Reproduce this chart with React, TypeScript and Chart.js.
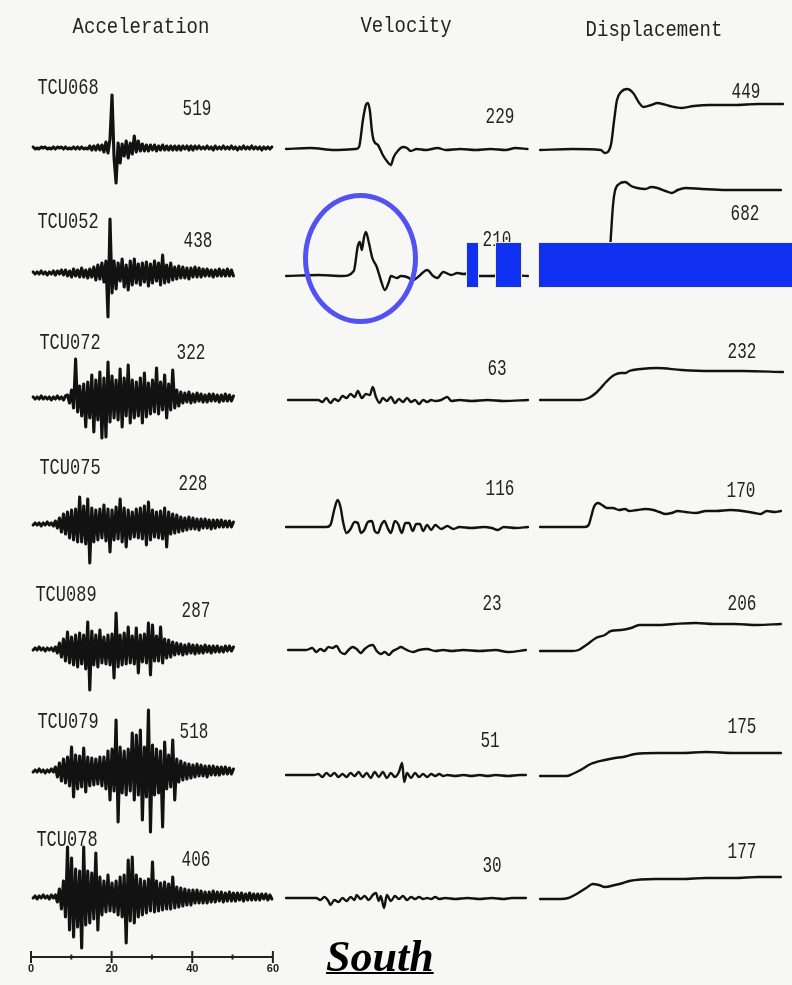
import React, { useEffect, useRef } from "react";
import { Chart, registerables } from "chart.js";

Chart.register(...registerables);

// ---------------- DATA ----------------
const STATIONS = ["TCU068", "TCU052", "TCU072", "TCU075", "TCU089", "TCU079", "TCU078"];
const COLUMN_TITLES = ["Acceleration", "Velocity", "Displacement"];
const ACC_PEAKS = ["519", "438", "322", "228", "287", "518", "406"];
const VEL_PEAKS = ["229", "210", "63", "116", "23", "51", "30"];
const DISP_PEAKS = ["449", "682", "232", "170", "206", "175", "177"];
const SCALE_MAJOR = [0, 20, 40, 60];
const SCALE_MINOR = [10, 30, 50];
const SCALE_LABEL = "South";

// acceleration: uniform sampling, first sample at 0.5 s, step 0.5 s (relative amplitude)
const ACC_T0 = 0.5;
const ACC_DT = 0.5;
const ACC_TCU068 = [1, -1, 0, -1, 1, 0, 1, -1, 0, -1, 1, -1, 1, 0, 1, -1, 1, -1, 0, -1, 1, -1, 1, -1, 1, -1, 0, -1,
  2, -2, 2, -2, 3, -2, 3, -4, 6, -5, 9, 53, -10, -35,
  5, -15, 4, -8, 7, -10, 5, -6, 12, -4, 7, -3, 4, -3,
  3, -3, 3, -2, 3, -3, 2, -2, 3, -2, 2, -2, 2, -2, 2, -2, 2, -2, 2, -1, 2, -2, 2, -2,
  2, -1, 2, -1, 1, -1, 2, -1, 1, -2, 2, -1, 1, -1, 2, -1, 1, -1, 2, -1, 1, -2, 1, -1, 2, -1, 1, -1, 2, -1, 1, -1, 1, -2, 1, -1, 1, -1, 1];
const ACC_TCU052 = [1, -1, 1, -1, 2, -1, 1, -2, 1, -1, 2, -2, 2, -1,
  3, -2, 3, -3, 2, -4, 4, -3, 3, -4, 5, -4, 3, -5, 4, -4,
  6, -7, 8, -6, 10, -9, 12, -44, 54, -20,
  12, -16, 10, -8, 14, -14, 8, -17, 12, -12, 14, -10, 9, -12, 10, -9, 11, -13,
  9, -10, 12, -8, 10, -12, 18, -10, 8, -9, 10, -7,
  6, -6, 7, -5, 6, -5, 5, -6, 5, -4, 6, -4, 5, -4,
  4, -3, 4, -3, 3, -4, 3, -3, 4, -3, 3, -3, 4, -3, 3, -3];
const ACC_TCU072 = [1, -1, 1, -1, 2, -1, 1, -1, 1, -2, 1, -1, 2, -1, 1, -2, 2,
  3, -5, 8, -10, 39, -14, 12, -18, 14, -29, 16, -20, 23, -34, 18, -22, 26, -40, 20, -39,
  36, -24, 22, -20, 18, -22, 29, -29, 20, -18, 33, -25, 18, -20, 16, -18, 20, -25, 25, -19,
  15, -16, 18, -14, 30, -16, 16, -12, 23, -20, 14, -12, 28, -10, 8, -8, 6,
  -5, 5, -4, 6, -5, 4, -4, 5, -3, 4, -4, 3, -4, 4, -3, 4, -3, 3, -4, 3, -3, 4, -3, 3, -3, 2];
const ACC_TCU075 = [-1, 1, -1, 1, -2, 1, -1, 2, -1, 1, -2,
  3, -4, 6, -8, 10, -10, 12, -14, 14, -16, 15, -18,
  27, -18, 18, -20, 25, -39, 16, -18, 14, -16, 15, -14, 19, -17, 15, -28, 14, -16, 17, -15,
  25, -18, 16, -23, 14, -15, 12, -13, 15, -14, 16, -15, 18, -21, 22, -16, 14, -13, 12, -14,
  13, -15, 16, -23, 12, -10, 10, -9, 9, -8, 7,
  -7, 6, -6, 7, -5, 6, -5, 5, -6, 5, -4, 5, -4, 4, -5, 4, -4, 4, -3, 4, -3, 3, -3, 3, -3, 2];
const ACC_TCU089 = [-1, 1, -1, 2, -1, 1, -2, 1, -1, 1, -2, 2,
  -4, 6, -8, 10, -12,
  17, -14, 12, -16, 14, -18, 16, -15, 14, -20, 27, -41, 18, -16, 14, -18, 19, -14, 12, -15,
  14, -16, 15, -29, 36, -18, 14, -16, 16, -15, 22, -14, 13, -15, 21, -24, 14, -13, 15, -14,
  26, -26, 24, -12, 13, -12, 22, -14, 10, -9, 9, -8, 7,
  -6, 6, -5, 5, -6, 4, -5, 5, -4, 4, -5, 4, -4, 3, -4, 4, -3, 3, -4, 3, -3, 3, -3, 2, -3, 3, -2, 3, -2, 2];
const ACC_TCU079 = [-1, 1, -1, 2, -1, 1, -2, 1, -1, 2, -1,
  4, -6, 8, -10, 12, -12, 14, -15,
  24, -26, 16, -18, 15, -16, 23, -21, 14, -15, 13, -14, 12, -13, 14, -15, 14, -18, 20, -29,
  22, -20, 51, -51, 24, -22, 20, -24, 22, -20, 38, -29, 36, -24, 41, -49, 24, -26, 61, -61,
  26, -24, 22, -22, 20, -56, 29, -18, 16, -16, 31, -29, 12, -11, 10,
  -9, 8, -8, 7, -7, 6, -6, 7, -5, 6, -5, 5, -6, 5, -4, 5, -4, 4, -4, 4, -3, 4, -3, 3, -3, 2];
const ACC_TCU078 = [-1, 1, -2, 1, -1, 2, -1, 1, -2, 2, -1, 2,
  -5, 8, -12, 16, -20,
  50, -33, 39, -40, 28, -30, 26, -51, 50, -28, 26, -26, 24, -22, 44, -33, 20, -18, 16, -15,
  22, -14, 14, -15, 16, -18, 20, -20, 22, -46, 37, -24, 40, -26, 22, -20, 18, -18, 16, -16,
  18, -14, 35, -15, 16, -14, 14, -13, 15, -12, 13, -12, 20, -11, 10, -10, 9,
  -9, 8, -8, 7, -8, 7, -6, 7, -6, 6, -6, 5, -6, 5, -5, 6, -5, 5, -4, 5, -5, 4, -4, 5, -4,
  4, -4, 4, -3, 4, -4, 3, -3, 4, -3, 3, -3, 3, -3, 3, -2, 3, -3, 2, -2];

// velocity: [time s, relative amplitude]
const VEL_TCU068 = [[0, 0], [6, 1], [12, -1], [17.3, 0], [18.1, 2], [19.1, 30], [19.8, 44], [20.3, 46], [20.8, 38], [21.3, 18], [21.8, 8], [22.8, 4], [24, -6], [25, -12], [26, -16], [26.7, -8], [27.7, -2], [29, 2], [30, 1], [30.9, -2], [32.4, 0], [34.7, -1], [37.6, 1], [39.6, -1], [43.3, 0], [47, -1], [50.7, 0], [54.5, -1], [56.9, 1], [59.9, 0]];
const VEL_TCU052 = [[0, 0], [8, 1], [14, 0], [16.8, 5], [17.8, 30], [18.3, 34], [18.8, 26], [19.3, 38], [19.8, 44], [20.5, 34], [21.4, 18], [22.5, 9], [23.5, -4], [24.5, -14], [25.5, -6], [26, 0], [27.5, -2], [28.5, 0], [30, -1], [31.5, -4], [33, 0], [35, 6], [36.5, 0], [37.5, -2], [39, 4], [41, 1], [42.5, 3], [44, 2], [46, 3], [48, 0], [51, 0], [55, 1], [60, 0]];
const VEL_TCU072 = [[0.5, 0], [8, 0], [9, -2], [10, 2], [11, -3], [12, 1], [13, -1], [14, 4], [15, 2], [16, 6], [17, 3], [17.8, 9], [18.8, 2], [19.8, 6], [20.8, 5], [21.5, 13], [22.3, 3], [23.2, -3], [24, 2], [25, -1], [26, 3], [27, -3], [28, 1], [29, -2], [30, 2], [31, -2], [32, 0], [33, -4], [34, 0], [35, -2], [36, 0], [37, -1], [38.5, 0], [40, 3], [41, -1], [43, 0], [46, -1], [50, 0], [54, -1], [60, 0]];
const VEL_TCU075 = [[0, 0], [10, 0], [11, 2], [12, 18], [12.8, 27], [13.5, 20], [14.2, 4], [15, -6], [16, -2], [17, 5], [17.8, 4], [18.6, -6], [19.4, -3], [20.3, 5], [21.3, 6], [22, -4], [22.8, -6], [23.6, 2], [24.4, 6], [25.2, -1], [26, -6], [27, 6], [27.8, 3], [28.7, -6], [29.6, 4], [30.5, 4], [31.4, -4], [32.3, 3], [33.2, 3], [34, -4], [35, 2], [36, -3], [37, 2], [38.5, -2], [40, 1], [41.5, -2], [43, 0], [46, -1], [49, 0], [51, -1], [52.5, -3], [54, 0], [57, -1], [60, 0]];
const VEL_TCU089 = [[0.5, 0], [5, 0], [6.5, 2], [7.5, -2], [8.5, 1], [9.5, -1], [10.5, 3], [11.5, 2], [12.5, 4], [13.5, -2], [14.5, -4], [15.5, 0], [16.5, 3], [17.5, 1], [18.5, -3], [19.5, 1], [20.5, 4], [21.5, 5], [22.5, -1], [23.5, -4], [24.5, -2], [25.5, -5], [26.5, -1], [27.5, 1], [28.5, 3], [29.5, 1], [30.5, -1], [31.5, -2], [33, 0], [35, 1], [37, -1], [39, 0], [41, -1], [44, 0], [48, -1], [52, 0], [55, -2], [59.5, 0]];
const VEL_TCU079 = [[0, 0], [7, 0], [8, 1], [9, -2], [10, 2], [11, -1], [12, 2], [13, -2], [14, 1], [15, -2], [16, 2], [17, -1], [18, 3], [19, -2], [20, 2], [21, -3], [22, 3], [23, -2], [24, 3], [25, -3], [26, 2], [27, -2], [28, 3], [28.8, 12], [29.3, -7], [30, 2], [31, -3], [32, 2], [33, -2], [34, 1], [35, -2], [36, 1], [37, -1], [38, 1], [39, -1], [40, 0], [42, -1], [44, 0], [46, -1], [48, 0], [50, -1], [52, 0], [55, -1], [58, 0], [59.5, 0]];
const VEL_TCU078 = [[0, 0], [7.5, 0], [8.5, -2], [9.5, 1], [10.5, -3], [11, -7], [12, -2], [13, -4], [14, 0], [15, -3], [16, 1], [17, -2], [17.5, 3], [18.5, -1], [19.5, 2], [20.5, -2], [21.5, 3], [22.3, 5], [23, -3], [23.5, 2], [24.3, -10], [25, 3], [26, -3], [27, 2], [28, -1], [29, 2], [30, -2], [31, 1], [32, -1], [33, 1], [34, -1], [35, 0], [36, -1], [37, 1], [38, -1], [39.5, 0], [42, -1], [45, 0], [48, -1], [51, 0], [54, -1], [56, 0], [59.5, 0]];

// displacement: [time s, relative amplitude]
const DISP_TCU068 = [[0, 0], [8, 1], [15, 0], [16, -3], [17.5, 5], [18.3, 30], [19, 50], [20, 58], [21.5, 61], [23, 57], [24.5, 47], [25.5, 43], [27.5, 45], [29, 47], [32, 44], [35, 42], [38, 44], [42, 45], [48, 45], [54, 46], [60, 46]];
const DISP_TCU052 = [[0, 0], [16, 0], [17, 10], [17.5, 40], [18, 70], [18.5, 85], [19.5, 92], [21, 94], [22.5, 90], [24, 88], [26, 87], [27.5, 89], [29, 88], [31, 85], [32.5, 83], [34, 86], [36, 88], [40, 87], [46, 86], [52, 86], [59.5, 86]];
const DISP_TCU072 = [[0, 0], [10, 0], [12, 2], [13.8, 7], [15, 12], [16.3, 18], [18.3, 25], [20, 27], [21.2, 27], [22, 29], [24.9, 31], [28.9, 32], [35, 30], [42, 29], [50, 29], [60, 28]];
const DISP_TCU075 = [[0, 0], [11, 0], [12, 2], [12.6, 10], [13.3, 20], [14.3, 24], [15.3, 22], [16.5, 19], [18, 19], [19.5, 17], [21, 18], [22, 16], [24, 17], [26, 18], [28, 17], [29.5, 15], [31, 13], [32.5, 14], [34, 16], [36, 15], [38.5, 14], [41, 16], [43.5, 16], [47, 17], [50, 16], [53, 14], [54.5, 13], [56, 16], [58, 15], [59.5, 16]];
const DISP_TCU089 = [[0, 0], [8, 0], [9.5, 1], [11.4, 6], [13.8, 13], [16, 16], [17.5, 20], [20, 21], [22.5, 23], [24.5, 26], [29, 26], [33, 27], [38.5, 28], [43, 27], [48, 27], [53.5, 26], [59.5, 27]];
const DISP_TCU079 = [[0, 0], [6.5, 0], [8, 2], [10, 6], [12.5, 12], [16, 16], [18.5, 18], [20.5, 19], [23.5, 22], [29, 23], [35, 23], [41, 24], [48, 23], [54, 23], [59.5, 23]];
const DISP_TCU078 = [[0, 0], [5, 0], [7, 1], [9, 5], [11.4, 11], [13, 15], [14.5, 14], [16, 12], [18.5, 14], [20.5, 16], [22, 18], [28.5, 20], [35, 20], [41, 21], [48, 21], [54, 22], [59.5, 22]];

const ACC_SERIES = [ACC_TCU068, ACC_TCU052, ACC_TCU072, ACC_TCU075, ACC_TCU089, ACC_TCU079, ACC_TCU078];
const VEL_SERIES = [VEL_TCU068, VEL_TCU052, VEL_TCU072, VEL_TCU075, VEL_TCU089, VEL_TCU079, VEL_TCU078];
const DISP_SERIES = [DISP_TCU068, DISP_TCU052, DISP_TCU072, DISP_TCU075, DISP_TCU089, DISP_TCU079, DISP_TCU078];

// ---------------- LAYOUT ----------------
const W = 792;
const H = 985;
const BG = "#f7f7f6";
const INK = "#121212";
const TEXT_INK = "#222";
const MONO = '"Liberation Mono", "DejaVu Sans Mono", monospace';
const T_MIN = -2;
const T_MAX = 62;
const AMP_MIN = -75;
const AMP_MAX = 115;

const COLS = [
  { x0: 31, pps: 4.05, base: [148, 273, 398, 524, 649, 771, 897], lw: 3.1 },
  { x0: 286, pps: 4.03, base: [149, 276, 400, 527, 650, 775, 898], lw: 2.4 },
  { x0: 540, pps: 4.05, base: [150, 276, 400, 527, 651, 776, 899], lw: 2.4 },
];
const TITLE_POS = [[141, 28], [406, 27], [654, 31]];
const STATION_POS = [[68, 88], [68, 222], [70, 343], [70, 468], [66, 595], [68, 722], [67, 840]];
const ACC_PEAK_POS = [[197, 110], [198, 242], [191, 354], [193, 485], [196, 612], [194, 733], [196, 861]];
const VEL_PEAK_POS = [[500, 118], [497, 241], [497, 370], [500, 490], [492, 605], [490, 742], [492, 867]];
const DISP_PEAK_POS = [[746, 93], [745, 215], [742, 353], [741, 492], [742, 605], [742, 728], [742, 853]];

type Pt = { x: number; y: number };

function Trace({ points, x0, pps, baseline, smooth, lw }: { points: Pt[]; x0: number; pps: number; baseline: number; smooth: boolean; lw: number }) {
  const ref = useRef<HTMLCanvasElement>(null);
  const width = Math.round((T_MAX - T_MIN) * pps);
  const height = AMP_MAX - AMP_MIN;
  const left = Math.round(x0 + T_MIN * pps);
  const top = baseline - AMP_MAX;
  useEffect(() => {
    const chart = new Chart(ref.current as HTMLCanvasElement, {
      type: "line",
      data: {
        datasets: [
          {
            data: points,
            borderColor: INK,
            borderWidth: lw,
            pointRadius: 0,
            fill: false,
            tension: smooth ? 0.3 : 0,
            cubicInterpolationMode: smooth ? "monotone" : "default",
            borderJoinStyle: "round",
            borderCapStyle: "round",
            clip: false,
          } as any,
        ],
      },
      options: {
        animation: false,
        responsive: false,
        devicePixelRatio: 1,
        events: [],
        layout: { padding: 0 },
        plugins: { legend: { display: false }, tooltip: { enabled: false } },
        scales: {
          x: { type: "linear", min: T_MIN, max: T_MAX, display: false },
          y: { type: "linear", min: AMP_MIN, max: AMP_MAX, display: false },
        },
      },
    });
    return () => chart.destroy();
  }, []);
  return <canvas ref={ref} width={width} height={height} style={{ position: "absolute", left, top, width, height }} />;
}

function ScaleBar() {
  const ref = useRef<HTMLCanvasElement>(null);
  useEffect(() => {
    const chart = new Chart(ref.current as HTMLCanvasElement, {
      type: "scatter",
      data: {
        datasets: [
          {
            data: SCALE_MAJOR.map((v) => ({ x: v, y: 0 })),
            pointStyle: "line",
            rotation: 90,
            pointRadius: 6,
            borderWidth: 2,
            borderColor: TEXT_INK,
            clip: false,
          } as any,
          {
            data: SCALE_MINOR.map((v) => ({ x: v, y: 0 })),
            pointStyle: "line",
            rotation: 90,
            pointRadius: 2.5,
            borderWidth: 2,
            borderColor: TEXT_INK,
            clip: false,
          } as any,
        ],
      },
      options: {
        animation: false,
        responsive: false,
        devicePixelRatio: 1,
        events: [],
        layout: { padding: { left: 10, right: 10, top: 0, bottom: 0 } },
        plugins: { legend: { display: false }, tooltip: { enabled: false } },
        scales: {
          x: {
            type: "linear",
            min: 0,
            max: 60,
            position: { y: 0 } as any,
            border: { display: true, color: TEXT_INK, width: 2 },
            grid: { display: false, drawTicks: false, tickLength: 0 },
            ticks: {
              stepSize: 10,
              autoSkip: false,
              maxRotation: 0,
              padding: 5,
              color: TEXT_INK,
              font: { family: '"Liberation Sans Narrow", "Liberation Sans", sans-serif', size: 11, weight: "bold" },
              callback: (v: any) => (SCALE_MAJOR.includes(Number(v)) ? String(v) : ""),
            },
          },
          y: { type: "linear", min: -1, max: 1, display: false },
        },
      },
    });
    return () => chart.destroy();
  }, []);
  return <canvas ref={ref} width={263} height={44} style={{ position: "absolute", left: 21, top: 935, width: 263, height: 44 }} />;
}

function Txt({ text, pos, size, sy = 1 }: { text: string; pos: number[]; size: number; sy?: number }) {
  return (
    <div
      style={{
        position: "absolute",
        left: pos[0],
        top: pos[1],
        transform: `translate(-50%, -50%) scale(1, ${sy})`,
        fontFamily: MONO,
        fontSize: size,
        lineHeight: 1,
        whiteSpace: "nowrap",
        color: TEXT_INK,
      }}
    >
      {text}
    </div>
  );
}

export default function App() {
  const accPts = ACC_SERIES.map((arr) => arr.map((v, i) => ({ x: ACC_T0 + i * ACC_DT, y: v })));
  const velPts = VEL_SERIES.map((arr) => arr.map(([t, v]) => ({ x: t, y: v })));
  const dispPts = DISP_SERIES.map((arr) => arr.map(([t, v]) => ({ x: t, y: v })));
  const groups = [accPts, velPts, dispPts];
  return (
    <div style={{ position: "absolute", left: 0, top: 0, width: W, height: H, background: BG, overflow: "hidden" }}>
      {groups.map((g, c) =>
        g.map((pts, r) => (
          <Trace key={`${c}-${r}`} points={pts} x0={COLS[c].x0} pps={COLS[c].pps} baseline={COLS[c].base[r]} smooth={c > 0} lw={COLS[c].lw} />
        ))
      )}
      <ScaleBar />
      {COLUMN_TITLES.map((t, i) => (
        <Txt key={t} text={t} pos={TITLE_POS[i]} size={19} sy={1.15} />
      ))}
      {STATIONS.map((s, i) => (
        <Txt key={s} text={s} pos={STATION_POS[i]} size={17} sy={1.3} />
      ))}
      {ACC_PEAKS.map((p, i) => (
        <Txt key={"a" + i} text={p} pos={ACC_PEAK_POS[i]} size={16} sy={1.35} />
      ))}
      {VEL_PEAKS.map((p, i) => (
        <Txt key={"v" + i} text={p} pos={VEL_PEAK_POS[i]} size={16} sy={1.35} />
      ))}
      {DISP_PEAKS.map((p, i) => (
        <Txt key={"d" + i} text={p} pos={DISP_PEAK_POS[i]} size={16} sy={1.35} />
      ))}
      <div
        style={{
          position: "absolute",
          left: 326,
          top: 935,
          fontFamily: '"Liberation Serif", "Times New Roman", serif',
          fontWeight: "bold",
          fontStyle: "italic",
          fontSize: 44,
          lineHeight: "44px",
          textDecoration: "underline",
          textDecorationThickness: "2px",
          color: "#000",
        }}
      >
        {SCALE_LABEL}
      </div>
      <div
        style={{
          position: "absolute",
          left: 303,
          top: 193,
          width: 115,
          height: 131,
          boxSizing: "border-box",
          border: "5px solid rgb(82, 82, 242)",
          borderRadius: "50%",
        }}
      />
      {[[466, 13], [495, 27], [538, 260]].map(([x, w], i) => (
        <div
          key={"r" + i}
          style={{
            position: "absolute",
            left: x,
            top: 242,
            width: w,
            height: 46,
            boxSizing: "border-box",
            background: "#1131f2",
            border: "1px solid #f3eea0",
          }}
        />
      ))}
    </div>
  );
}
